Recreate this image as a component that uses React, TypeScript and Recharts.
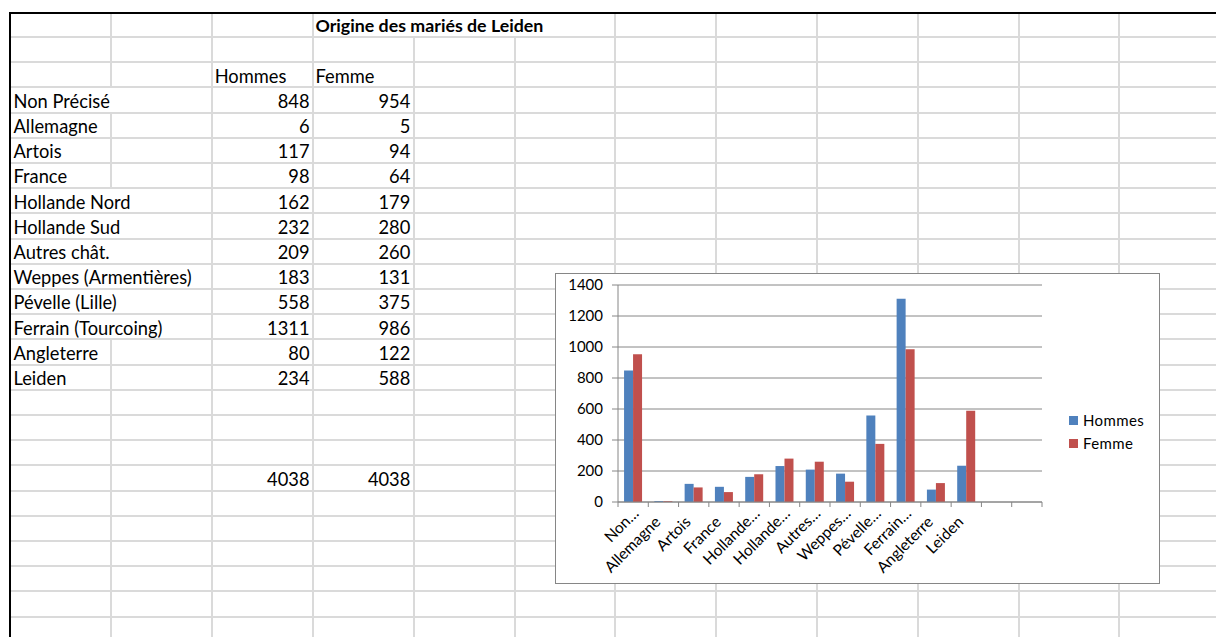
import React from 'react';
import { BarChart, Bar, XAxis, YAxis, CartesianGrid, Legend } from 'recharts';

// ---------- data ----------
const sheetTitle = 'Origine des mariés de Leiden';
const seriesNames = ['Hommes', 'Femme'];
const seriesColors = ['#4F81BD', '#C0504D'];
const regions = [
  'Non Précisé',
  'Allemagne',
  'Artois',
  'France',
  'Hollande Nord',
  'Hollande Sud',
  'Autres chât.',
  'Weppes (Armentières)',
  'Pévelle (Lille)',
  'Ferrain (Tourcoing)',
  'Angleterre',
  'Leiden',
];
const hommes = [848, 6, 117, 98, 162, 232, 209, 183, 558, 1311, 80, 234];
const femme = [954, 5, 94, 64, 179, 280, 260, 131, 375, 986, 122, 588];
const totals = [4038, 4038];
// chart range includes two empty rows after Leiden
const emptyCategories = ['(vide 1)', '(vide 2)'];
const axisLabels = [
  'Non…',
  'Allemagne',
  'Artois',
  'France',
  'Hollande…',
  'Hollande…',
  'Autres…',
  'Weppes…',
  'Pévelle…',
  'Ferrain…',
  'Angleterre',
  'Leiden',
  '',
  '',
];
const yTicks = [0, 200, 400, 600, 800, 1000, 1200, 1400];

const categoryKeys = [...regions, ...emptyCategories];
const chartData = categoryKeys.map((region, i) => ({
  region,
  hommes: i < hommes.length ? hommes[i] : null,
  femme: i < femme.length ? femme[i] : null,
}));

// ---------- styles ----------
const FONT = 'Lato, "Liberation Sans", sans-serif';
const CELL_FS = 18.3;
const BOLD_FS = 17.8;
const GRID = '#dadada';
const AXIS = '#868686';

const colLine = (k: number) => 10.6 + 100.8 * k; // k = 1..11
const colLeft = (c: number) => (c === 0 ? 11 : colLine(c));
const colRight = (c: number) => colLine(c + 1);
const rowBottom = (r: number) => 37 + 25.2 * r;
const rowTop = (r: number) => (r === 0 ? 14 : rowBottom(r - 1));
const NROWS = 25;

let _ctx: CanvasRenderingContext2D | null = null;
function measure(text: string, bold: boolean) {
  if (!_ctx) _ctx = document.createElement('canvas').getContext('2d');
  if (!_ctx) return text.length * 8;
  _ctx.font = `${bold ? 'bold ' : ''}${bold ? BOLD_FS : CELL_FS}px ${FONT}`;
  return _ctx.measureText(text).width;
}

type Cell = { r: number; c: number; text: string; align: 'left' | 'right'; bold?: boolean };
const cells: Cell[] = [];
cells.push({ r: 0, c: 3, text: sheetTitle, align: 'left', bold: true });
cells.push({ r: 2, c: 2, text: seriesNames[0], align: 'left' });
cells.push({ r: 2, c: 3, text: seriesNames[1], align: 'left' });
regions.forEach((name, i) => {
  cells.push({ r: 3 + i, c: 0, text: name, align: 'left' });
  cells.push({ r: 3 + i, c: 2, text: String(hommes[i]), align: 'right' });
  cells.push({ r: 3 + i, c: 3, text: String(femme[i]), align: 'right' });
});
cells.push({ r: 18, c: 2, text: String(totals[0]), align: 'right' });
cells.push({ r: 18, c: 3, text: String(totals[1]), align: 'right' });

function Sheet() {
  const hidden = new Set<string>();
  cells.forEach((cell) => {
    if (cell.align !== 'left') return;
    const start = colLeft(cell.c) + 3;
    const end = start + measure(cell.text, !!cell.bold);
    for (let k = cell.c + 1; k <= 11; k++) {
      if (colLine(k) < end + 2) hidden.add(`${cell.r}-${k}`);
    }
  });
  const els: React.ReactNode[] = [];
  for (let r = 0; r < NROWS; r++) {
    const yb = Math.round(rowBottom(r));
    els.push(<rect key={`h${r}`} x={11} y={yb - 1} width={1216} height={2} fill={GRID} />);
    for (let k = 1; k <= 11; k++) {
      if (hidden.has(`${r}-${k}`)) continue;
      const x = Math.round(colLine(k));
      const yt = Math.round(rowTop(r));
      els.push(<rect key={`v${r}-${k}`} x={x - 1} y={yt} width={2} height={yb - yt} fill={GRID} />);
    }
  }
  cells.forEach((cell, i) => {
    const y = rowBottom(cell.r) - 4.8;
    const x = cell.align === 'left' ? colLeft(cell.c) + 2.5 : colRight(cell.c) - 3.5;
    els.push(
      <text
        key={`t${i}`}
        x={x}
        y={y}
        textAnchor={cell.align === 'left' ? 'start' : 'end'}
        fontFamily={FONT}
        fontSize={cell.bold ? BOLD_FS : CELL_FS}
        fontWeight={cell.bold ? 700 : 400}
        fill="#000"
      >
        {cell.text}
      </text>
    );
  });
  return (
    <svg width={1216} height={637} style={{ position: 'absolute', left: 0, top: 0 }}>
      <rect x={0} y={0} width={1216} height={637} fill="#fff" />
      {els}
      <rect x={9} y={12} width={1207} height={2} fill="#000" />
      <rect x={9} y={12} width={2} height={625} fill="#000" />
    </svg>
  );
}

const XTick = (props: any) => {
  const { x, y, payload, index } = props;
  const half = payload && typeof payload.offset === 'number' && payload.offset > 0 ? payload.offset : 15.15;
  const idx = categoryKeys.indexOf(payload.value);
  const label = axisLabels[idx] ?? '';
  const trunc = label.endsWith('…');
  const ax = x + (trunc ? 6.5 : -2);
  const ay = y + (trunc ? 12.5 : 21);
  const last = (index ?? idx) === categoryKeys.length - 1;
  return (
    <g>
      <line x1={x - half} x2={x - half} y1={y} y2={y + 5} stroke={AXIS} />
      {last && <line x1={x + half} x2={x + half} y1={y} y2={y + 5} stroke={AXIS} />}
      <text
        x={ax}
        y={ay}
        transform={`rotate(-45 ${ax} ${ay})`}
        textAnchor="end"
        fontSize={15.5}
        fontFamily={FONT}
        fill="#000"
      >
        {label}
      </text>
    </g>
  );
};

const LegendContent = (props: any) => {
  const payload = [...(props.payload || [])].sort(
    (a: any, b: any) => seriesNames.indexOf(a.value) - seriesNames.indexOf(b.value)
  );
  return (
    <div style={{ fontFamily: FONT, fontSize: 15, color: '#000' }}>
      {payload.map((p: any, i: number) => (
        <div key={i} style={{ display: 'flex', alignItems: 'center', height: 23 }}>
          <span style={{ display: 'inline-block', width: 9, height: 9, background: p.color, marginRight: 5 }} />
          <span style={{ letterSpacing: 0.4 }}>{p.value}</span>
        </div>
      ))}
    </div>
  );
};

export default function App() {
  return (
    <div style={{ position: 'absolute', left: 0, top: 0, width: 1216, height: 637, background: '#fff', overflow: 'hidden' }}>
      <Sheet />
      <div
        style={{
          position: 'absolute',
          left: 555,
          top: 273,
          width: 605,
          height: 311,
          border: `1px solid ${AXIS}`,
          boxSizing: 'border-box',
          background: '#fff',
        }}
      >
        <BarChart
          width={603}
          height={309}
          data={chartData}
          margin={{ top: 11, right: 117, bottom: 0, left: 0 }}
          barCategoryGap="20%"
          barGap={0}
        >
          <CartesianGrid horizontal vertical={false} stroke={AXIS} strokeOpacity={1} />
          <XAxis
            dataKey="region"
            interval={0}
            height={81}
            axisLine={{ stroke: AXIS }}
            tickLine={false}
            tickSize={0}
            tickMargin={0}
            tick={<XTick />}
          />
          <YAxis
            width={62}
            domain={[0, 1400]}
            ticks={yTicks}
            interval={0}
            axisLine={{ stroke: AXIS }}
            tickLine={{ stroke: AXIS }}
            tickSize={6}
            tickMargin={9}
            tick={{ fontSize: 15, fontFamily: FONT, fill: '#000' }}
          />
          <Legend
            layout="vertical"
            align="center"
            verticalAlign="middle"
            wrapperStyle={{ position: 'absolute', left: 513, top: 134.5, width: 90, height: 46 }}
            content={<LegendContent />}
          />
          <Bar dataKey="hommes" name={seriesNames[0]} fill={seriesColors[0]} isAnimationActive={false} />
          <Bar dataKey="femme" name={seriesNames[1]} fill={seriesColors[1]} isAnimationActive={false} />
        </BarChart>
      </div>
    </div>
  );
}
